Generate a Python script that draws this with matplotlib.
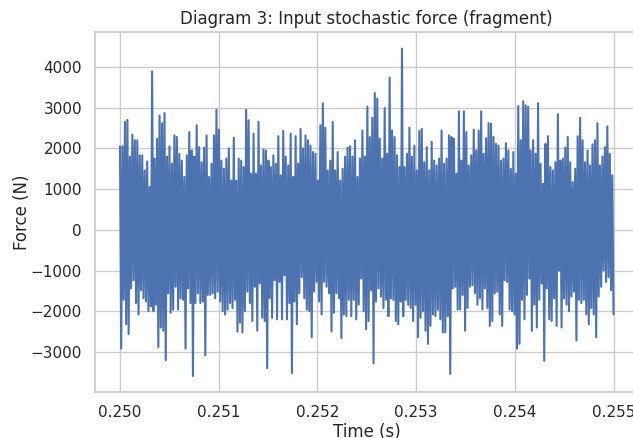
import numpy as np
import matplotlib
matplotlib.use("Agg")
import matplotlib.pyplot as plt
import seaborn as sns

# upper peaks of the force signal (N), read left to right
upper = [2050, 2050, 2650, 2700, 1800, 2340, 2200, 2200, 1830, 1830, 1460, 1680, 1050, 3890, 1750,
         2240, 2810, 2620, 2870, 1800, 2050, 1620, 2320, 2280, 1870, 1700, 1300, 1830, 2400, 1950,
         1800, 2570, 2030, 1660, 2020, 2320, 1300, 1620, 2320, 2950, 2460, 1700, 1500, 1750, 2000,
         1210, 2260, 1210, 1750, 1700,
         1540, 2950, 2690, 1380, 2360, 1380, 2650, 1580, 1970, 1950, 1700, 1540, 1830, 1620, 2300,
         1340, 2430, 1800, 1580, 2360, 1300, 2300, 1620, 2480, 2000, 2320, 2200, 2070, 1910, 1870,
         1210, 2570, 3110, 2510, 1460, 1700, 2650, 1460, 1910, 1210, 1500, 1800, 2020, 2050, 1800,
         2200, 1300, 1750, 2440, 1800,
         3030, 2280, 2750, 3360, 3220, 2240, 1750, 2990, 1870, 3740, 2440, 2280, 1830, 1540, 4450,
         1540, 1870, 2510, 1800, 2070, 1460, 2430, 2480, 1660, 2030, 1460, 2160, 1700, 1580, 1750,
         2440, 1620, 1750, 2320, 2280, 2240, 1380, 2910, 1700, 2910, 2400, 1580, 1830, 2460, 1950,
         2440, 2910, 1870, 2250, 2620,
         2610, 2280, 2110, 2070, 1700, 1750, 2130, 1950, 1500, 1910, 1380, 3040, 2200, 3160, 3060,
         3020, 1950, 2200, 1870, 3110, 1620, 1130, 2110, 2300, 1540, 1460, 1660, 2840, 1700, 1750,
         2020, 2280, 1660, 1170, 1500, 2300, 2750, 2200, 1660, 1950, 1580, 2100, 2200, 2620, 1580,
         1800, 2030, 2540, 1870, 1340]

# lower troughs of the force signal (N), read left to right
lower = [-2920, -1720, -2320, -2560, -1440, -1240, -1800, -2080, -1480, -1680, -1760, -2000, -1880,
         -2000, -1840, -2880, -2400, -2480, -3200, -1560, -2040, -1960, -1400, -1960, -1680, -1720,
         -2920, -1440, -1800, -3590, -1800, -1560, -1800, -1760, -3080, -1600, -1600, -1560, -1680,
         -1520, -1760, -2000, -2080, -1960, -1800, -1920, -1720, -2500, -2280, -2520,
         -2000, -1520, -1800, -2240, -1400, -2480, -1320, -2160, -2240, -3400, -1680, -2160, -1240,
         -2200, -1280, -2200, -1120, -2200, -1800, -3520, -1760, -2320, -1560, -1160, -1680, -1960,
         -2000, -2640, -1520, -1280, -1760, -2080, -1280, -1400, -1560, -2500, -2040, -1560, -1680,
         -2660, -2080, -2120, -1720, -2120, -1720, -2200, -1840, -1200, -2000, -2440,
         -2240, -1480, -3280, -1760, -1440, -1640, -1920, -1720, -2120, -1680, -1720, -2240, -2320,
         -1760, -2120, -1720, -1840, -1920, -2240, -1840, -2640, -2160, -2000, -2480, -2800, -2360,
         -2080, -2120, -1960, -2200, -2520, -2520, -2120, -3540, -1440, -1400, -1960, -1960, -1600,
         -2480, -1920, -1400, -1360, -1560, -1840, -1680, -1960, -1440, -1920, -2360,
         -2240, -1560, -1520, -2080, -2360, -1240, -1280, -1960, -2000, -2080, -2920, -2800, -1720,
         -2200, -1600, -1200, -2480, -1840, -2400, -1720, -1320, -3220, -1440, -2200, -2240, -1680,
         -2360, -1000, -2400, -1680, -1840, -2000, -1640, -1520, -2720, -1720, -1800, -1720, -2080,
         -2320, -1920, -2080, -2640, -1640, -1400, -1000, -1280, -1160, -1480, -2080]

t_start, t_end = 0.250, 0.255
xtick_vals = [0.250, 0.251, 0.252, 0.253, 0.254, 0.255]
xtick_labels = ["0.250", "0.251", "0.252", "0.253", "0.254", "0.255"]

# peaks and troughs alternate along the time axis
n = min(len(upper), len(lower))
force = np.empty(2 * n)
force[0::2] = upper[:n]
force[1::2] = lower[:n]
t = np.linspace(t_start, t_end, 2 * n)

sns.set_theme(style="whitegrid")
plt.rcParams['font.family'] = ['DejaVu Sans']

W, H = 633, 438
fig = plt.figure(figsize=(W / 100, H / 100), dpi=100)
ax = fig.add_axes([95.3 / W, 1 - 392.3 / H, 542.9 / W, 360.0 / H])

ax.plot(t, force, color="#4C72B0", linewidth=1.5)
ax.set_title("Diagram 3: Input stochastic force (fragment)")
ax.set_xlabel("Time (s)", labelpad=2)
ax.set_ylabel("Force (N)", labelpad=-0.3)
ax.set_xticks(xtick_vals)
ax.set_xticklabels(xtick_labels)

fig.savefig("out.png", dpi=100)
